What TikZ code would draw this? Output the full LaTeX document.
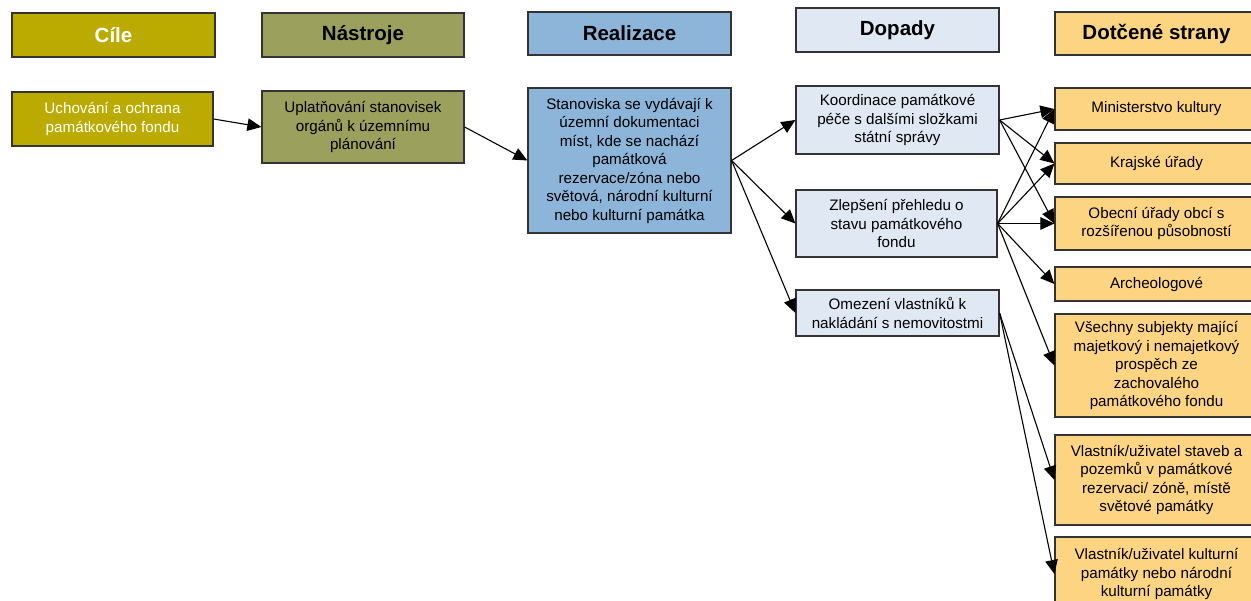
\documentclass[tikz,border=0pt]{standalone}
\usepackage{fontspec}
\setmainfont{Liberation Sans}
\usetikzlibrary{arrows.meta}
\definecolor{cile}{HTML}{BBAB00}
\definecolor{nastroje}{HTML}{9BA05D}
\definecolor{realizace}{HTML}{8DB5D9}
\definecolor{dopady}{HTML}{DFE8F3}
\definecolor{strany}{HTML}{FDD582}
\begin{document}
\begin{tikzpicture}[x=1pt,y=-1pt,
  box/.style={draw=black!80, line width=1.2pt, inner sep=0pt, align=center,
    font=\fontsize{15.2}{18.5}\selectfont},
  head/.style={box, font=\fontsize{20.5}{24}\selectfont\bfseries, minimum width=203pt, minimum height=44pt},
  arr/.style={line width=1.1pt, -{Triangle[length=14pt,width=12.5pt]}}]
\path[use as bounding box, clip] (0,0) rectangle (1251,601);
\fill[white] (0,0) rectangle (1251,601);
% headers
\node[head, fill=cile, text=white] (hc) at (113.5,35) {Cíle};
\node[head, fill=nastroje, minimum width=202pt] (hn) at (363,35) {Nástroje};
\node[head, fill=realizace, minimum height=43pt] (hr) at (629.5,33.5) {Realizace};
\node[head, fill=dopady] (hd) at (897.5,30) {Dopady};
\node[head, fill=strany, minimum height=43pt] (hs) at (1156.5,33.5) {Dotčené strany};
% content
\node[box, fill=cile, text=white, minimum width=201pt, minimum height=54pt] (uch) at (112.5,119)
  {Uchování a ochrana\\památkového fondu};
\node[box, fill=nastroje, minimum width=202pt, minimum height=72pt] (upl) at (363,127)
  {Uplatňování stanovisek\\orgánů k územnímu\\plánování};
\node[box, fill=realizace, minimum width=203pt, minimum height=145pt] (sta) at (629.5,160.5)
  {Stanoviska se vydávají k\\územní dokumentaci\\míst, kde se nachází\\památková\\rezervace/zóna nebo\\světová, národní kulturní\\nebo kulturní památka};
\node[box, fill=dopady, minimum width=203pt, minimum height=68pt] (koo) at (897.5,120)
  {Koordinace památkové\\péče s dalšími složkami\\státní správy};
\node[box, fill=dopady, minimum width=201pt, minimum height=67pt] (zle) at (896.5,223.5)
  {Zlepšení přehledu o\\stavu památkového\\fondu};
\node[box, fill=dopady, minimum width=203pt, minimum height=46pt] (ome) at (897.5,313)
  {Omezení vlastníků k\\nakládání s nemovitostmi};
\node[box, fill=strany, minimum width=203pt, minimum height=42pt] (min) at (1156.5,109)
  {Ministerstvo kultury};
\node[box, fill=strany, minimum width=203pt, minimum height=41pt] (kra) at (1156.5,163.5)
  {Krajské úřady};
\node[box, fill=strany, minimum width=203pt, minimum height=53pt] (obe) at (1156.5,223.5)
  {Obecní úřady obcí s\\rozšířenou působností};
\node[box, fill=strany, minimum width=203pt, minimum height=34pt] (arc) at (1156.5,284)
  {Archeologové};
\node[box, fill=strany, minimum width=203pt, minimum height=103pt] (vse) at (1156.5,365.5)
  {Všechny subjekty mající\\majetkový i nemajetkový\\prospěch ze\\zachovalého\\památkového fondu};
\node[box, fill=strany, minimum width=203pt, minimum height=90pt] (vst) at (1156.5,480)
  {Vlastník/uživatel staveb a\\pozemků v památkové\\rezervaci/ zóně, místě\\světové památky};
\node[box, fill=strany, minimum width=203pt, minimum height=74pt] (vku) at (1156.5,574)
  {Vlastník/uživatel kulturní\\památky nebo národní\\kulturní památky};
% connectors
\draw[arr] (uch.east) -- (upl.west);
\draw[arr] (upl.east) -- (sta.west);
\draw[arr] (sta.east) -- (koo.west);
\draw[arr] (sta.east) -- (zle.west);
\draw[arr] (sta.east) -- (ome.west);
\draw[arr] (koo.east) -- (min.west);
\draw[arr] (koo.east) -- (kra.west);
\draw[arr] (koo.east) -- (obe.west);
\draw[arr] (zle.east) -- (min.west);
\draw[arr] (zle.east) -- (kra.west);
\draw[arr] (zle.east) -- (obe.west);
\draw[arr] (zle.east) -- (arc.west);
\draw[arr] (zle.east) -- (vse.west);
\draw[arr] (ome.east) -- (vst.west);
\draw[arr] (ome.east) -- (vku.west);
\end{tikzpicture}
\end{document}
